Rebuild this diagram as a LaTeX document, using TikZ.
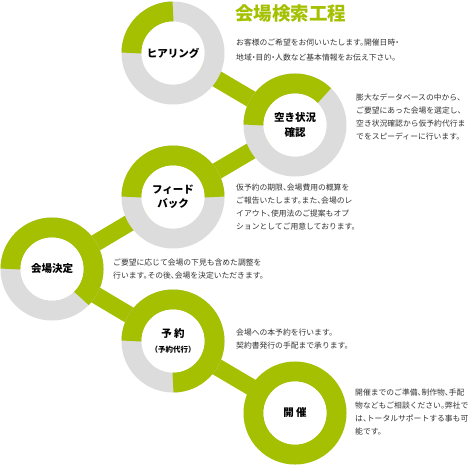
\documentclass[tikz,border=0pt]{standalone}
\usepackage{fontspec}
\newfontfamily\jp[RawFeature={+halt}]{Noto Sans CJK JP}
\usetikzlibrary{backgrounds}
\definecolor{leaf}{RGB}{165,192,0}
\definecolor{ringgray}{RGB}{220,220,220}
\definecolor{bodytext}{RGB}{51,51,51}
\tikzset{
  stage/.style={circle, fill=white, minimum size=63pt, inner sep=0pt, align=center,
    font=\jp\bfseries\fontsize{10.5}{14.5}\selectfont},
  desc/.style={anchor=north west, inner sep=0pt, align=left, text=bodytext,
    font=\jp\fontsize{7.8}{13}\selectfont},
  bar/.style={leaf, line width=17pt},
  ringbase/.style={ringgray, line width=20pt},
  ringfill/.style={leaf, line width=20pt}
}
\begin{document}
\begin{tikzpicture}[x=1pt,y=1pt]
    \useasboundingbox (0,0) rectangle (468,-467);
    \node[anchor=west, inner sep=0pt, text=leaf, font=\jp\bfseries\fontsize{18.5}{20}\selectfont] (title) at (235,-13.5) {会場検索工程};

    \node[stage] (hearing) at (173,-53) {ヒアリング};
    \node[stage] (vacancy) at (295,-125) {空き状況\\確認};
    \node[stage] (feedback) at (173,-197) {フィード\\バック};
    \node[stage] (decide) at (52,-269) {会場決定};
    \node[stage] (reserve) at (173,-341) {予 約\\{\fontsize{7.5}{10}\selectfont （予約代行）}};
    \node[stage] (event) at (295,-413) {開 催};

    \begin{scope}[on background layer]
        \draw[bar] (hearing.center) -- (vacancy.center) -- (feedback.center) -- (decide.center) -- (reserve.center) -- (event.center);
        \draw[ringbase] (hearing.center) circle[radius=41.5pt];
        \draw[ringbase] (vacancy.center) circle[radius=41.5pt];
        \draw[ringbase] (feedback.center) circle[radius=41.5pt];
        \draw[ringbase] (decide.center) circle[radius=41.5pt];
        \draw[ringbase] (reserve.center) circle[radius=41.5pt];
        \draw[ringfill] (hearing.center) ++(90:41.5pt) arc[start angle=90, end angle=180, radius=41.5pt];
        \draw[ringfill] (vacancy.center) ++(45:41.5pt) arc[start angle=45, end angle=180, radius=41.5pt];
        \draw[ringfill] (feedback.center) ++(0:41.5pt) arc[start angle=0, end angle=180, radius=41.5pt];
        \draw[ringfill] (decide.center) ++(-45:41.5pt) arc[start angle=-45, end angle=180, radius=41.5pt];
        \draw[ringfill] (reserve.center) ++(-90:41.5pt) arc[start angle=-90, end angle=180, radius=41.5pt];
        \draw[ringfill] (event.center) circle[radius=41.5pt];
    \end{scope}

    \node[desc, font=\jp\fontsize{7.8}{15}\selectfont] (hearingtext) at (236,-39) {お客様のご希望をお伺いいたします。開催日時・\\地域・目的・人数など基本情報をお伝え下さい。};
    \node[desc] (vacancytext) at (356,-94) {膨大なデータベースの中から、\\ご要望にあった会場を選定し、\\空き状況確認から仮予約代行ま\\でをスピーディーに行います。};
    \node[desc] (feedbacktext) at (236,-184) {仮予約の期限、会場費用の概算を\\ご報告いたします。また、会場のレ\\イアウト、使用法のご提案もオプ\\ションとしてご用意しております。};
    \node[desc] (decidetext) at (113,-259) {ご要望に応じて会場の下見も含めた調整を\\行います。その後、会場を決定いただきます。};
    \node[desc] (reservetext) at (236,-329) {会場への本予約を行います。\\契約書発行の手配まで承ります。};
    \node[desc] (eventtext) at (355,-389) {開催までのご準備、制作物、手配\\物などもご相談ください。弊社で\\は、トータルサポートする事も可\\能です。};
\end{tikzpicture}
\end{document}
